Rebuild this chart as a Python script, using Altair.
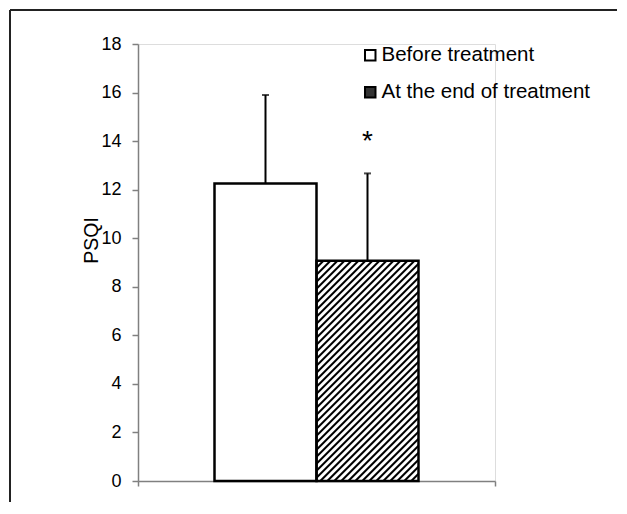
import altair as alt
import pandas as pd

# ---- data ----
groups = ["Before treatment", "At the end of treatment"]
means = [12.25, 9.07]
upper = [15.9, 12.67]          # mean + SD (upper whisker only)
sig_label = ["", "*"]
y_ticks = [0, 2, 4, 6, 8, 10, 12, 14, 16, 18]

# ---- layout constants ----
W, H = 357, 437
Y_MAX = 18
GAP = 1.5                      # Excel gap width 150 %
X_MAX = len(groups) + GAP
FONT = "Liberation Sans"

x0 = [GAP / 2 + i for i in range(len(groups))]
x1 = [v + 1 for v in x0]
xc = [v + 0.5 for v in x0]

bars = pd.DataFrame({"group": groups, "mean": means, "upper": upper,
                     "x0": x0, "x1": x1, "xc": xc, "sig": sig_label})
bars["sig_y"] = bars["upper"] + 0.95

# ---- hatch segments (45 deg in pixel space) for the second bar ----
px_x = W / X_MAX
px_y = H / Y_MAX
spacing = 7.0
bx0, bx1, bh = x0[1] * px_x, x1[1] * px_x, means[1] * px_y
segs = []
c = bx0 - bh
while c < bx1:
    v_lo = max(0.0, bx0 - c)
    v_hi = min(bh, bx1 - c)
    if v_hi > v_lo:
        segs.append({"hx": (c + v_lo) / px_x, "hy": v_lo / px_y,
                     "hx2": (c + v_hi) / px_x, "hy2": v_hi / px_y})
    c += spacing
hatch = pd.DataFrame(segs)

xs = alt.Scale(domain=[0, X_MAX], nice=False, zero=False)
ys = alt.Scale(domain=[0, Y_MAX], nice=False)

x_axis = alt.Axis(values=[0, X_MAX], labels=False, title=None, grid=False,
                  tickSize=5, tickColor="#808080", tickWidth=1.5,
                  domainColor="#808080", domainWidth=1.5)
y_axis = alt.Axis(values=y_ticks, title="PSQI", grid=False, tickSize=6,
                  tickColor="#808080", tickWidth=1.5, domainColor="#808080",
                  domainWidth=1.5, labelFontSize=18, labelColor="black",
                  labelFont=FONT, labelPadding=11, labelAngle=0,
                  labelAlign="right", labelBaseline="middle",
                  titleFont=FONT, titleFontSize=19.5, titleFontWeight="normal",
                  titleColor="black", titleX=-47, titleY=196, titleAngle=270,
                  titleBaseline="middle", titleAlign="center")

base = alt.Chart(bars)

bar_fill = base.mark_rect(fill="white").encode(
    x=alt.X("x0:Q", scale=xs, axis=x_axis),
    x2="x1:Q",
    y=alt.Y("mean:Q", scale=ys, axis=y_axis),
    y2=alt.Y2Datum(0),
)

hatch_lines = alt.Chart(hatch).mark_rule(color="black", strokeWidth=2).encode(
    x=alt.X("hx:Q", scale=xs, axis=x_axis),
    x2="hx2:Q",
    y=alt.Y("hy:Q", scale=ys, axis=y_axis),
    y2="hy2:Q",
)

bar_outline = base.mark_rect(fillOpacity=0, stroke="black", strokeWidth=2.5).encode(
    x=alt.X("x0:Q", scale=xs, axis=x_axis),
    x2="x1:Q",
    y=alt.Y("mean:Q", scale=ys, axis=y_axis),
    y2=alt.Y2Datum(0),
)

err = base.mark_rule(color="black", strokeWidth=2).encode(
    x=alt.X("xc:Q", scale=xs, axis=x_axis),
    y=alt.Y("mean:Q", scale=ys, axis=y_axis),
    y2="upper:Q",
)

cap = base.mark_tick(orient="horizontal", size=7, thickness=2, color="black").encode(
    x=alt.X("xc:Q", scale=xs, axis=x_axis),
    y=alt.Y("upper:Q", scale=ys, axis=y_axis),
)

star = base.mark_text(font=FONT, fontSize=28, color="black",
                      baseline="alphabetic", align="center").encode(
    x=alt.X("xc:Q", scale=xs, axis=x_axis),
    y=alt.Y("sig_y:Q", scale=ys, axis=y_axis),
    text="sig:N",
)

legend_layer = base.mark_square(opacity=0).encode(
    x=alt.X("xc:Q", scale=xs, axis=x_axis),
    y=alt.Y("mean:Q", scale=ys, axis=y_axis),
    fill=alt.Fill("group:N",
                  scale=alt.Scale(domain=groups, range=["white", "#333333"]),
                  legend=alt.Legend(orient="none", legendX=222, legendY=1,
                                    title=None, symbolType="square",
                                    symbolSize=110, symbolStrokeColor="black",
                                    symbolStrokeWidth=2, symbolOpacity=1,
                                    labelFont=FONT, labelFontSize=20.5,
                                    labelColor="black", labelOffset=1,
                                    rowPadding=16, padding=0, labelLimit=400)),
)

frame_df = pd.DataFrame({"k": [0]})
frame_left = alt.Chart(frame_df).mark_rule(color="#222222", strokeWidth=2).encode(
    x=alt.value(-128), y=alt.value(-34), y2=alt.value(458))
frame_top = alt.Chart(frame_df).mark_rule(color="#222222", strokeWidth=2).encode(
    x=alt.value(-128), x2=alt.value(479), y=alt.value(-34))

chart = alt.layer(
    bar_fill, hatch_lines, bar_outline, err, cap, star, legend_layer,
    frame_left, frame_top,
).properties(
    width=W, height=H,
    padding={"left": 1, "top": 1, "right": 0, "bottom": 0},
    background="white",
).configure_view(stroke=None).configure(font=FONT)

chart.save("out.html", embed_options={"renderer": "svg", "actions": False})
